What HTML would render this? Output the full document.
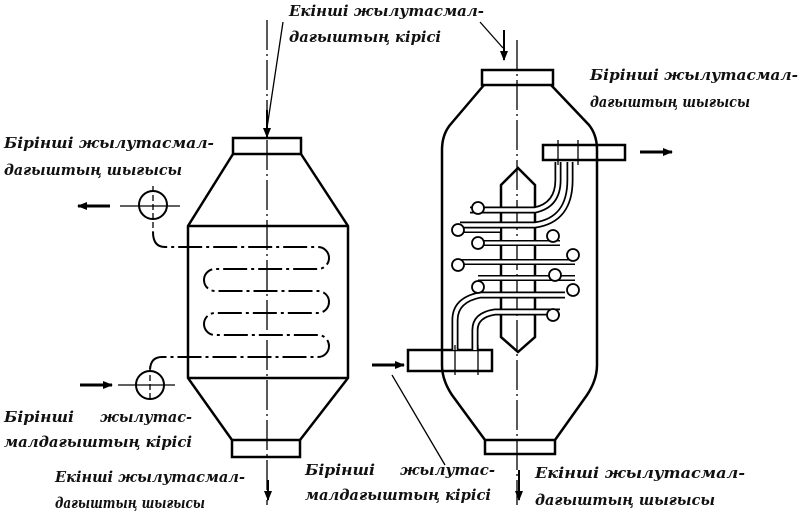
<!DOCTYPE html>
<html><head><meta charset="utf-8"><style>
html,body{margin:0;padding:0;background:#fff;}
svg{display:block}
text{font-family:"DejaVu Serif",serif;font-style:italic;font-weight:bold;font-size:15px;fill:#111;}
</style></head><body>
<svg width="800" height="514" viewBox="0 0 800 514" xmlns="http://www.w3.org/2000/svg">
<defs><marker id="a" markerWidth="10" markerHeight="8" refX="9" refY="4" orient="auto" markerUnits="userSpaceOnUse"><path d="M0,0 L10,4 L0,8 Z" fill="#000"/></marker></defs>
<g fill="none" stroke="#000" stroke-width="2.5">
<rect x="233" y="138" width="68" height="16"/>
<path d="M233,154 L188,226 L188,378 L232,440 M301,154 L348,226 L348,378 L300,440 M188,226 L348,226 M188,378 L348,378"/>
<rect x="232" y="440" width="68" height="17"/>
</g>
<g fill="none" stroke="#000" stroke-width="1.3">
<line x1="267" y1="20" x2="267" y2="505" stroke-dasharray="30,4,2,4"/>
<line x1="283" y1="22" x2="267" y2="128"/>
<circle cx="153" cy="205" r="14" stroke-width="2"/>
<circle cx="150" cy="385" r="14" stroke-width="2"/>
<line x1="120" y1="206" x2="180" y2="206"/><line x1="153" y1="186" x2="153" y2="232" stroke-dasharray="6,3"/>
<line x1="118" y1="385" x2="175" y2="385"/><line x1="150" y1="366" x2="150" y2="400" stroke-dasharray="6,3"/>
<path d="M153,232 Q153,247 165,247 L318,247 A11,11 0 0 1 318,269 L215,269 A11,11 0 0 0 215,291 L318,291 A11,11 0 0 1 318,313 L215,313 A11,11 0 0 0 215,335 L318,335 A11,11 0 0 1 318,357 L162,357 Q150,357 150,371" stroke-width="2" stroke-dasharray="24,4,3,4"/>
</g>
<g stroke="#000" stroke-width="3" marker-end="url(#a)">
<line x1="110" y1="206" x2="78" y2="206"/>
<line x1="80" y1="385" x2="112" y2="385"/>
<line x1="267" y1="110" x2="267" y2="137" stroke-width="2"/>
<line x1="372" y1="365" x2="404" y2="365"/>
<line x1="640" y1="152" x2="672" y2="152"/>
<line x1="504" y1="30" x2="504" y2="60" stroke-width="2"/>
<line x1="519" y1="470" x2="519" y2="500" stroke-width="2"/>
<line x1="268" y1="480" x2="268" y2="500" stroke-width="2"/>
</g>
<g fill="none" stroke="#000" stroke-width="2.5">
<rect x="482" y="70" width="71" height="15"/>
<path d="M484,85 L450,125 Q442,135 442,150 L442,365 Q442,380 452,395 L485,440 M551,85 L589,125 Q597,135 597,150 L597,365 Q597,380 587,395 L555,440"/>
<rect x="485" y="440" width="70" height="14"/>
<rect x="543" y="145" width="82" height="15"/>
<rect x="408" y="350" width="84" height="21"/>
<path d="M518,168 L535,185 L535,337 L518,352 L501,337 L501,185 Z"/>
</g>
<g fill="none" stroke="#000" stroke-width="1.3">
<line x1="517" y1="40" x2="517" y2="505" stroke-dasharray="30,4,2,4"/>
<line x1="480" y1="22" x2="503" y2="48"/>
<line x1="392" y1="375" x2="445" y2="465"/>
<path d="M558,162 L558,180 Q558,205 535,210 L470,210 M570,162 L570,180 Q570,220 535,225 L460,225" stroke-width="7" stroke="#000"/>
<path d="M558,162 L558,180 Q558,205 535,210 L470,210 M570,162 L570,180 Q570,220 535,225 L460,225" stroke-width="3.5" stroke="#fff"/>
<path d="M455,350 L455,320 Q455,300 480,295 L565,295 M475,350 L475,330 Q475,315 495,312 L560,312" stroke-width="7" stroke="#000"/>
<path d="M455,350 L455,320 Q455,300 480,295 L565,295 M475,350 L475,330 Q475,315 495,312 L560,312" stroke-width="3.5" stroke="#fff"/>
<g stroke-width="6"><line x1="478" y1="243" x2="560" y2="243"/><line x1="458" y1="262" x2="575" y2="262"/><line x1="478" y1="278" x2="575" y2="278"/><line x1="458" y1="230" x2="500" y2="230"/></g>
<g stroke-width="3" stroke="#fff"><line x1="478" y1="243" x2="560" y2="243"/><line x1="458" y1="262" x2="575" y2="262"/><line x1="478" y1="278" x2="575" y2="278"/><line x1="458" y1="230" x2="500" y2="230"/></g>
<g stroke-width="1.8" fill="#fff">
<circle cx="478" cy="208" r="6"/><circle cx="458" cy="230" r="6"/><circle cx="478" cy="243" r="6"/><circle cx="458" cy="265" r="6"/><circle cx="478" cy="287" r="6"/>
<circle cx="553" cy="236" r="6"/><circle cx="573" cy="255" r="6"/><circle cx="555" cy="275" r="6"/><circle cx="573" cy="290" r="6"/><circle cx="553" cy="315" r="6"/>
</g>
<line x1="558" y1="140" x2="558" y2="165"/><line x1="578" y1="140" x2="578" y2="165"/>
<line x1="455" y1="345" x2="455" y2="375"/><line x1="478" y1="345" x2="478" y2="375"/>
</g>
<text x="289" y="16" textLength="195" lengthAdjust="spacingAndGlyphs">Екінші  жылутасмал-</text>
<text x="289" y="42" textLength="152" lengthAdjust="spacingAndGlyphs">дағыштың кірісі</text>
<text x="590" y="80" textLength="208" lengthAdjust="spacingAndGlyphs">Бірінші жылутасмал-</text>
<text x="590" y="107" textLength="160" lengthAdjust="spacingAndGlyphs">дағыштың шығысы</text>
<text x="4" y="148" textLength="210" lengthAdjust="spacingAndGlyphs">Бірінші жылутасмал-</text>
<text x="4" y="175" textLength="178" lengthAdjust="spacingAndGlyphs">дағыштың шығысы</text>
<text x="4" y="422" textLength="70" lengthAdjust="spacingAndGlyphs">Бірінші</text>
<text x="100" y="422" textLength="92" lengthAdjust="spacingAndGlyphs">жылутас-</text>
<text x="4" y="447" textLength="188" lengthAdjust="spacingAndGlyphs">малдағыштың кірісі</text>
<text x="55" y="482" textLength="190" lengthAdjust="spacingAndGlyphs">Екінші жылутасмал-</text>
<text x="55" y="508" textLength="150" lengthAdjust="spacingAndGlyphs">дағыштың шығысы</text>
<text x="305" y="475" textLength="70" lengthAdjust="spacingAndGlyphs">Бірінші</text>
<text x="400" y="475" textLength="95" lengthAdjust="spacingAndGlyphs">жылутас-</text>
<text x="305" y="500" textLength="186" lengthAdjust="spacingAndGlyphs">малдағыштың кірісі</text>
<text x="535" y="478" textLength="210" lengthAdjust="spacingAndGlyphs">Екінші жылутасмал-</text>
<text x="535" y="505" textLength="180" lengthAdjust="spacingAndGlyphs">дағыштың шығысы</text>
</svg>
</body></html>
